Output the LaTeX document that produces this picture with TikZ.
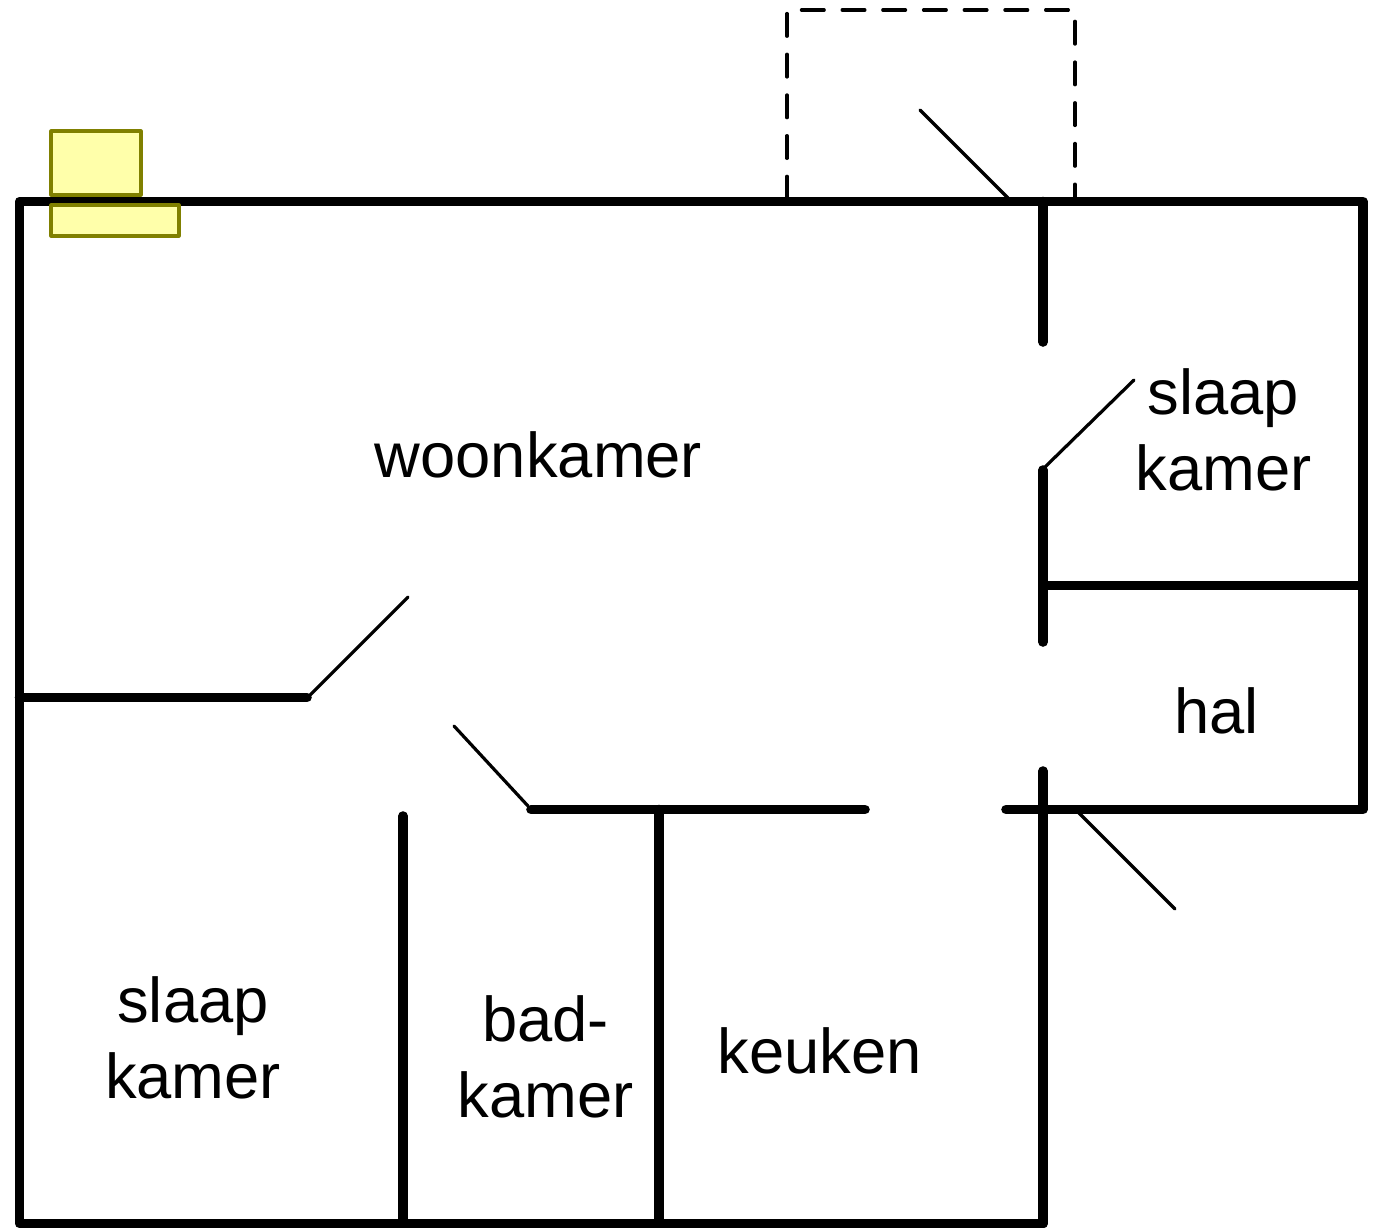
\documentclass[tikz,border=0pt]{standalone}
\usepackage{fontspec}
\setmainfont{Liberation Sans}
\definecolor{kastfill}{HTML}{FFFFAA}
\definecolor{kastline}{HTML}{808000}
\tikzset{
  wall/.style={line width=9.6pt,line cap=round,line join=round,black},
  doorleaf/.style={line width=3.2pt,line cap=round,black},
  outline/.style={line width=3.4pt,line cap=round,black,dash pattern=on 22.6pt off 18.1pt},
  kast/.style={draw=kastline,fill=kastfill,line width=3.1pt,line join=round},
  room/.style={font=\fontsize{63.3pt}{75.5pt}\selectfont,align=center,inner sep=0pt,black}
}
\begin{document}
\begin{tikzpicture}[x=1pt,y=-1pt]
\useasboundingbox (0,0) rectangle (1377,1227);
% dashed extension
\draw[outline] (787,199) -- (787,10) -- (1075,10) -- (1075,199);
% yellow blocks
\draw[kast] (51,131) rectangle (141,195);
% walls
\draw[wall] (1043,1223.5) -- (19.5,1223.5) -- (19.5,201.5) -- (1363,201.5) -- (1363,809.5) -- (1006,809.5);
\draw[wall] (1043,1223.5) -- (1043,771);
\draw[wall] (1043,201.5) -- (1043,342);
\draw[wall] (1043,470) -- (1043,642);
\draw[wall] (1043,585.5) -- (1363,585.5);
\draw[wall] (19.5,697.5) -- (307,697.5);
\draw[wall] (403,816) -- (403,1223.5);
\draw[wall] (531,809.5) -- (865,809.5);
\draw[wall] (659,809.5) -- (659,1223.5);
\draw[kast] (51,205) rectangle (179,236);
% door leaves
\draw[doorleaf] (920,110) -- (1008,198);
\draw[doorleaf] (1134,380) -- (1045,467);
\draw[doorleaf] (408,597) -- (310,695);
\draw[doorleaf] (454,726) -- (528,806);
\draw[doorleaf] (1078,812) -- (1175,909);
% labels
\node[room] (woonkamer) at (538.5,455) {woonkamer};
\node[room] (slaapa) at (1223.5,430) {slaap\\kamer};
\node[room] (hal) at (1216.5,711) {hal};
\node[room] (slaapb) at (193,1038) {slaap\\kamer};
\node[room] (bad) at (545.5,1057) {bad-\\kamer};
\node[room] (keuken) at (819.5,1050.5) {keuken};
\end{tikzpicture}
\end{document}
